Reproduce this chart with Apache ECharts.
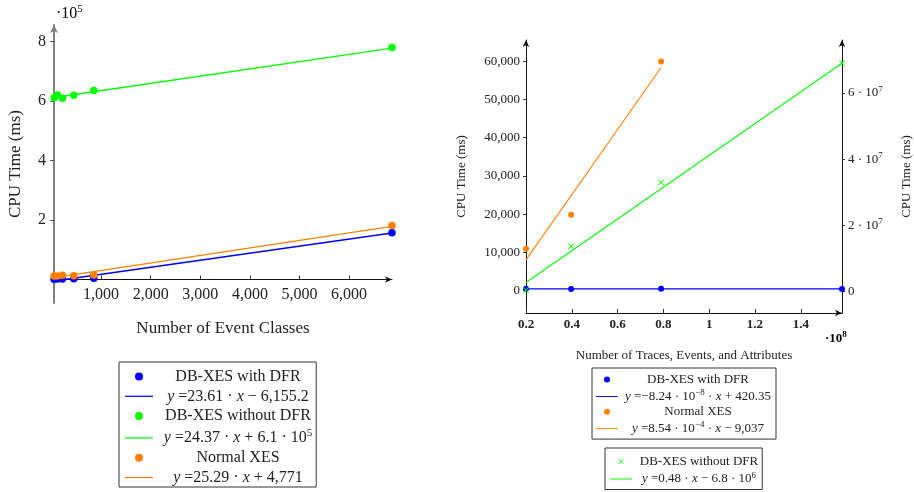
<!DOCTYPE html>
<html>
<head>
<meta charset="utf-8">
<script src="https://cdn.jsdelivr.net/npm/echarts@6/dist/echarts.min.js"></script>
<style>
html,body{margin:0;padding:0;background:#fff;}
#chart{width:914px;height:492px;}
</style>
</head>
<body>
<div id="chart"></div>
<script>
// ---------- data (left chart: Number of Event Classes) ----------
const leftX = [52, 119, 220, 450, 853, 6866];
const leftBlue = [1000, 1500, 1800, 2500, 4500, 157000];
const leftGreen = [611000, 620000, 609000, 619000, 635000, 779000];
const leftOrange = [11500, 12000, 14000, 12500, 15000, 181000];
const leftFitX = [52, 6866];
const leftBlueFit = [-4900, 156000];
const leftGreenFit = [611300, 777300];
const leftOrangeFit = [6100, 178400];
const leftXTicks = [1000, 2000, 3000, 4000, 5000, 6000];
const leftYTicks = [200000, 400000, 600000, 800000];

// ---------- data (right chart: Number of Traces, Events, and Attributes) ----------
const rightX = [2.0e7, 3.97e7, 7.9e7, 1.58e8];
const rightBlue = [430, 400, 440, 410];
const rightOrangeX = [2.0e7, 3.97e7, 7.9e7];
const rightOrange = [10900, 19800, 60000];
const rightGreen = [5.0e5, 1.37e7, 3.30e7, 6.90e7];
const rightFitX = [2.0e7, 1.58e8];
const rightBlueFit = [418.7, 407.3];
const rightOrangeFitX = [2.0e7, 7.9e7];
const rightOrangeFit = [8000, 58400];
const rightGreenFit = [2.8e6, 6.9e7];
const rightXTicks = [2e7, 4e7, 6e7, 8e7, 1e8, 1.2e8, 1.4e8];
const rightYLeftTicks = [0, 10000, 20000, 30000, 40000, 50000, 60000];
const rightYRightTicks = [0, 2e7, 4e7, 6e7];

const BLUE = '#0000ff', GREEN = '#00ff00', ORANGE = '#ff8000';
const FONT = '"Liberation Serif", "DejaVu Serif", serif';
const TXT = '#222';
const CROSS = 'path://M0,1L1,0L5,4L9,0L10,1L6,5L10,9L9,10L5,6L1,10L0,9L4,5Z';
const LINEICON = 'path://M0,0H30V1.3H0Z';

const zip = (xs, ys) => xs.map((x, i) => [x, ys[i]]);
const comma = v => Math.round(v).toLocaleString('en-US');

// left grid geometry (used to put the x axis on y = 0)
const LG = {left: 54, top: 25, width: 338, height: 278};
const LYMIN = -79000, LYMAX = 855000;
const leftZeroOffset = LG.height * (0 - LYMIN) / (LYMAX - LYMIN);

// legend display text (rich)
const legendText = {
  'L_blue': '{n|DB-XES with DFR}',
  'L_blueFit': '{i|y}{n| =23.61 · }{i|x}{n| − 6,155.2}',
  'L_green': '{n|DB-XES without DFR}',
  'L_greenFit': '{i|y}{n| =24.37 · }{i|x}{n| + 6.1 · 10}{s|5}',
  'L_orange': '{n|Normal XES}',
  'L_orangeFit': '{i|y}{n| =25.29 · }{i|x}{n| + 4,771}',
  'R_blue': '{n|DB-XES with DFR}',
  'R_blueFit': '{i|y}{n| =−8.24 · 10}{s|−8}{n| · }{i|x}{n| + 420.35}',
  'R_orange': '{n|Normal XES}',
  'R_orangeFit': '{i|y}{n| =8.54 · 10}{s|−4}{n| · }{i|x}{n| − 9,037}',
  'R_green': '{n|DB-XES without DFR}',
  'R_greenFit': '{i|y}{n| =0.48 · }{i|x}{n| − 6.8 · 10}{s|6}'
};
function richFor(size, lh) {
  return {
    n: {fontFamily: FONT, fontSize: size, color: TXT, align: 'center', lineHeight: lh},
    i: {fontFamily: FONT, fontSize: size, color: TXT, fontStyle: 'italic', align: 'center', lineHeight: lh},
    s: {fontFamily: FONT, fontSize: Math.round(size * 0.68), color: TXT, align: 'center', verticalAlign: 'top', lineHeight: Math.round(lh * 0.62)}
  };
}

const chart = echarts.init(document.getElementById('chart'), null, {renderer: 'canvas'});

const option = {
  animation: false,
  backgroundColor: '#ffffff',
  grid: [
    {left: LG.left, top: LG.top, width: LG.width, height: LG.height, containLabel: false},
    {left: 526, top: 40, width: 318, height: 273, containLabel: false}
  ],
  xAxis: [
    {
      gridIndex: 0, type: 'value', min: 50, max: 6866, position: 'bottom',
      offset: -leftZeroOffset,
      axisLine: {onZero: false, lineStyle: {color: '#111', width: 1}, symbol: ['none', 'arrow'], symbolSize: [5, 7]},
      axisTick: {customValues: leftXTicks, inside: true, length: 4, lineStyle: {color: '#333'}},
      axisLabel: {customValues: leftXTicks, formatter: comma, fontFamily: FONT, fontSize: 16, color: TXT, margin: 7},
      splitLine: {show: false},
      name: 'Number of Event Classes', nameLocation: 'middle', nameGap: 41,
      nameTextStyle: {fontFamily: FONT, fontSize: 17, color: TXT}
    },
    {
      gridIndex: 1, type: 'value', min: 2e7, max: 1.58e8,
      axisLine: {onZero: false, lineStyle: {color: '#111', width: 1}, symbol: ['none', 'arrow'], symbolSize: [5, 7]},
      axisTick: {customValues: rightXTicks, inside: true, length: 4, lineStyle: {color: '#333'}},
      axisLabel: {customValues: rightXTicks, formatter: v => String(Number((v / 1e8).toFixed(1))), fontFamily: FONT, fontSize: 13, fontWeight: 'bold', color: TXT, margin: 5},
      splitLine: {show: false},
      name: 'Number of Traces, Events, and Attributes', nameLocation: 'middle', nameGap: 36,
      nameTextStyle: {fontFamily: FONT, fontSize: 13, color: TXT}
    }
  ],
  yAxis: [
    {
      gridIndex: 0, type: 'value', min: LYMIN, max: LYMAX,
      axisLine: {onZero: false, lineStyle: {color: '#808080', width: 2}, symbol: ['none', 'arrow'], symbolSize: [6, 8]},
      axisTick: {customValues: leftYTicks, length: 4, lineStyle: {color: '#555'}},
      axisLabel: {customValues: leftYTicks, formatter: v => String(v / 1e5), fontFamily: FONT, fontSize: 16, color: TXT, margin: 8},
      splitLine: {show: false},
      name: 'CPU Time (ms)', nameLocation: 'middle', nameGap: 30, nameRotate: 90,
      nameTextStyle: {fontFamily: FONT, fontSize: 17, color: TXT}
    },
    {
      gridIndex: 1, type: 'value', position: 'left', min: -5900, max: 65600,
      axisLine: {onZero: false, lineStyle: {color: '#111', width: 1}, symbol: ['none', 'arrow'], symbolSize: [5, 7]},
      axisTick: {customValues: rightYLeftTicks, length: 3, lineStyle: {color: '#333'}},
      axisLabel: {customValues: rightYLeftTicks, formatter: comma, fontFamily: FONT, fontSize: 13, color: TXT, margin: 6},
      splitLine: {show: false},
      name: 'CPU Time (ms)', nameLocation: 'middle', nameGap: 58, nameRotate: 90,
      nameTextStyle: {fontFamily: FONT, fontSize: 13, color: TXT}
    },
    {
      gridIndex: 1, type: 'value', position: 'right', min: -6.42e6, max: 7.6e7,
      axisLine: {onZero: false, lineStyle: {color: '#111', width: 1}, symbol: ['none', 'arrow'], symbolSize: [5, 7]},
      axisTick: {customValues: rightYRightTicks, length: 3, lineStyle: {color: '#333'}},
      axisLabel: {
        customValues: rightYRightTicks,
        formatter: v => v === 0 ? '{n|0}' : '{n|' + (v / 1e7) + ' · 10}{s|7}',
        rich: richFor(13, 16), margin: 6
      },
      splitLine: {show: false},
      name: 'CPU Time (ms)', nameLocation: 'middle', nameGap: 58, nameRotate: 90,
      nameTextStyle: {fontFamily: FONT, fontSize: 13, color: TXT}
    }
  ],
  legend: [
    {
      left: 119, top: 362, orient: 'vertical', selectedMode: false,
      itemWidth: 28, itemHeight: 8, itemGap: 3.8, padding: [6.5, 4, 1.5, 6],
      borderColor: '#333', borderWidth: 1, backgroundColor: '#fff',
      data: [
        {name: 'L_blue', icon: 'circle'}, {name: 'L_blueFit', icon: LINEICON},
        {name: 'L_green', icon: 'circle'}, {name: 'L_greenFit', icon: LINEICON},
        {name: 'L_orange', icon: 'circle'}, {name: 'L_orangeFit', icon: LINEICON}
      ],
      formatter: n => legendText[n],
      textStyle: {width: 160, rich: richFor(16, 20)}
    },
    {
      left: 592, top: 368, orient: 'vertical', selectedMode: false,
      itemWidth: 22, itemHeight: 6, itemGap: 2.2, padding: [5, 5, 4, 4],
      borderColor: '#333', borderWidth: 1, backgroundColor: '#fff',
      data: [
        {name: 'R_blue', icon: 'circle'}, {name: 'R_blueFit', icon: LINEICON},
        {name: 'R_orange', icon: 'circle'}, {name: 'R_orangeFit', icon: LINEICON}
      ],
      formatter: n => legendText[n],
      textStyle: {width: 150, rich: richFor(13, 16.5)}
    },
    {
      left: 605, top: 448, orient: 'vertical', selectedMode: false,
      itemWidth: 22, itemHeight: 5, itemGap: 3, padding: [7, 4, 4, 5],
      borderColor: '#333', borderWidth: 1, backgroundColor: '#fff',
      data: [
        {name: 'R_green', icon: CROSS}, {name: 'R_greenFit', icon: LINEICON}
      ],
      formatter: n => legendText[n],
      textStyle: {width: 124, rich: richFor(13, 16)}
    }
  ],
  graphic: [
    {type: 'text', left: 56, top: 4, style: {text: '{n|·10}{s|5}', rich: {n: {fontFamily: FONT, fontSize: 16, color: TXT, lineHeight: 20}, s: {fontFamily: FONT, fontSize: 11, color: TXT, verticalAlign: 'top', lineHeight: 12}}}},
    {type: 'text', left: 825, top: 330, style: {text: '{n|·10}{s|8}', rich: {n: {fontFamily: FONT, fontSize: 13, fontWeight: 'bold', color: TXT, lineHeight: 17}, s: {fontFamily: FONT, fontSize: 9, fontWeight: 'bold', color: TXT, verticalAlign: 'top', lineHeight: 10}}}}
  ],
  series: [
    // left chart fits
    {name: 'L_blueFit', type: 'line', xAxisIndex: 0, yAxisIndex: 0, data: zip(leftFitX, leftBlueFit), symbol: 'none', clip: false, lineStyle: {color: BLUE, width: 1.4}, itemStyle: {color: BLUE}, z: 2},
    {name: 'L_greenFit', type: 'line', xAxisIndex: 0, yAxisIndex: 0, data: zip(leftFitX, leftGreenFit), symbol: 'none', clip: false, lineStyle: {color: GREEN, width: 1.4}, itemStyle: {color: GREEN}, z: 2},
    {name: 'L_orangeFit', type: 'line', xAxisIndex: 0, yAxisIndex: 0, data: zip(leftFitX, leftOrangeFit), symbol: 'none', clip: false, lineStyle: {color: ORANGE, width: 1.4}, itemStyle: {color: ORANGE}, z: 2},
    // left chart points
    {name: 'L_blue', type: 'scatter', xAxisIndex: 0, yAxisIndex: 0, data: zip(leftX, leftBlue), symbol: 'circle', symbolSize: 7.5, clip: false, itemStyle: {color: BLUE, opacity: 1}, z: 3},
    {name: 'L_green', type: 'scatter', xAxisIndex: 0, yAxisIndex: 0, data: zip(leftX, leftGreen), symbol: 'circle', symbolSize: 7.5, clip: false, itemStyle: {color: GREEN, opacity: 1}, z: 3},
    {name: 'L_orange', type: 'scatter', xAxisIndex: 0, yAxisIndex: 0, data: zip(leftX, leftOrange), symbol: 'circle', symbolSize: 7.5, clip: false, itemStyle: {color: ORANGE, opacity: 1}, z: 3},
    // right chart
    {name: 'R_orangeFit', type: 'line', xAxisIndex: 1, yAxisIndex: 1, data: zip(rightOrangeFitX, rightOrangeFit), symbol: 'none', clip: false, lineStyle: {color: ORANGE, width: 1.1}, itemStyle: {color: ORANGE}, z: 2},
    {name: 'R_greenFit', type: 'line', xAxisIndex: 1, yAxisIndex: 2, data: zip(rightFitX, rightGreenFit), symbol: 'none', clip: false, lineStyle: {color: GREEN, width: 1.1}, itemStyle: {color: GREEN}, z: 2},
    {name: 'R_blueFit', type: 'line', xAxisIndex: 1, yAxisIndex: 1, data: zip(rightFitX, rightBlueFit), symbol: 'none', clip: false, lineStyle: {color: BLUE, width: 1.1}, itemStyle: {color: BLUE}, z: 2},
    {name: 'R_orange', type: 'scatter', xAxisIndex: 1, yAxisIndex: 1, data: zip(rightOrangeX, rightOrange), symbol: 'circle', symbolSize: 6, clip: false, itemStyle: {color: ORANGE, opacity: 1}, z: 3},
    {name: 'R_blue', type: 'scatter', xAxisIndex: 1, yAxisIndex: 1, data: zip(rightX, rightBlue), symbol: 'circle', symbolSize: 6, clip: false, itemStyle: {color: BLUE, opacity: 1}, z: 3},
    {name: 'R_green', type: 'scatter', xAxisIndex: 1, yAxisIndex: 2, data: zip(rightX, rightGreen), symbol: CROSS, symbolSize: 6, clip: false, itemStyle: {color: GREEN, opacity: 1}, z: 4}
  ]
};
chart.setOption(option);
</script>
</body>
</html>
